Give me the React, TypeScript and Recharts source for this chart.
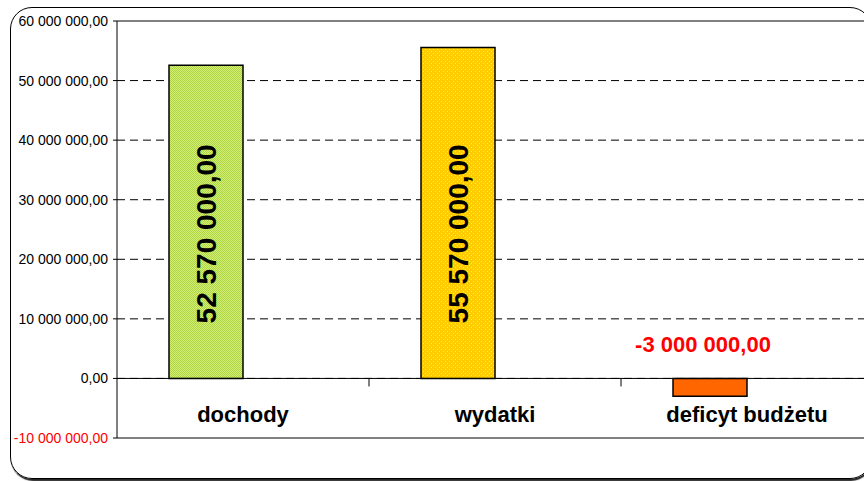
import React from 'react';
import {
  BarChart,
  Bar,
  Cell,
  XAxis,
  YAxis,
  CartesianGrid,
  ReferenceLine,
  LabelList,
} from 'recharts';

const categories = ['dochody', 'wydatki', 'deficyt budżetu'];
const budgetValues = [52570000, 55570000, -3000000];
const emptySeries = [null, null, null];
const yTicks = [-10000000, 0, 10000000, 20000000, 30000000, 40000000, 50000000, 60000000];

const barFills = ['url(#greenDots)', 'url(#yellowDots)', '#ff6600'];

const data = categories.map((name, i) => ({
  name,
  value: budgetValues[i],
  empty: emptySeries[i],
}));

const FONT = '"Liberation Sans", Arial, sans-serif';

// chart layout
const CHART_W = 880;
const CHART_H = 481;
const MARGIN = { top: 21, right: 7, bottom: 13, left: 0 };
const Y_AXIS_W = 117;
const X_AXIS_H = 30;
const Y_MIN = -10000000;
const Y_MAX = 60000000;
const PLOT_W = CHART_W - MARGIN.left - MARGIN.right - Y_AXIS_W;
const PLOT_H = CHART_H - MARGIN.top - MARGIN.bottom - X_AXIS_H;
const HALF_BAND = PLOT_W / categories.length / 2;
const ZERO_OFFSET = (PLOT_H * (0 - Y_MIN)) / (Y_MAX - Y_MIN);

// 52570000 -> "52 570 000,00"
const fmt = (v: number) => {
  const sign = v < 0 ? '-' : '';
  const int = Math.abs(Math.round(v)).toString().replace(/\B(?=(\d{3})+(?!\d))/g, ' ');
  return sign + int + ',00';
};

const YTick = (props: any) => {
  const { x, y, payload } = props;
  return (
    <text
      x={x}
      y={y}
      dy="0.36em"
      textAnchor="end"
      fontFamily={FONT}
      fontSize={14}
      fill={payload.value < 0 ? '#ff0000' : '#000'}
    >
      {fmt(payload.value)}
    </text>
  );
};

// category label sits just under the zero line, tick mark on the band edge
const XTick = (props: any) => {
  const { x, y, payload } = props;
  const zeroY = y - ZERO_OFFSET;
  return (
    <g>
      <line
        x1={x + HALF_BAND}
        x2={x + HALF_BAND}
        y1={zeroY}
        y2={zeroY + 8}
        stroke="#000"
        strokeWidth={1}
      />
      <text
        x={x}
        y={zeroY + 44}
        textAnchor="middle"
        fontFamily={FONT}
        fontSize={22}
        fontWeight="bold"
        fill="#000"
      >
        {payload.value}
      </text>
    </g>
  );
};

const ValueLabel = (props: any) => {
  const { x, y, width, height, value } = props;
  if (value == null) return null;
  const cx = x + width / 2;
  if (value < 0) {
    const top = Math.min(y, y + height);
    return (
      <text
        x={cx - 7}
        y={top - 26}
        textAnchor="middle"
        fontFamily={FONT}
        fontSize={22}
        fontWeight="bold"
        fill="#ff0000"
      >
        {fmt(value)}
      </text>
    );
  }
  const base = Math.max(y, y + height);
  const lx = cx + 10;
  const ly = base - 55;
  return (
    <text
      x={lx}
      y={ly}
      transform={`rotate(-90 ${lx} ${ly})`}
      textAnchor="start"
      fontFamily={FONT}
      fontSize={28}
      fontWeight="bold"
      fill="#000"
    >
      {fmt(value)}
    </text>
  );
};

export default function App() {
  return (
    <div
      style={{
        position: 'absolute',
        left: 0,
        top: 0,
        width: 864,
        height: 481,
        overflow: 'hidden',
        background: '#fff',
        fontFamily: FONT,
      }}
    >
      <div
        style={{
          position: 'absolute',
          left: 10,
          top: 7,
          width: 860,
          height: 470,
          border: '1.5px solid #000',
          borderRadius: 22,
          boxShadow: '1px 2px 1px rgba(0,0,0,0.85)',
        }}
      />
      <div style={{ position: 'absolute', left: 0, top: 0 }}>
        <BarChart
          width={CHART_W}
          height={CHART_H}
          data={data}
          margin={MARGIN}
          barGap={0}
        >
          <defs>
            <pattern id="greenDots" width="2" height="2" patternUnits="userSpaceOnUse">
              <rect width="2" height="2" fill="#d2ef76" />
              <rect x="0" y="0" width="1" height="1" fill="#afd443" />
              <rect x="1" y="1" width="1" height="1" fill="#afd443" />
            </pattern>
            <pattern id="yellowDots" width="4" height="4" patternUnits="userSpaceOnUse">
              <rect width="4" height="4" fill="#ffcc00" />
              <rect x="1" y="1" width="1" height="1" fill="#ffea8a" />
              <rect x="3" y="3" width="1" height="1" fill="#ffea8a" />
            </pattern>
          </defs>
          <CartesianGrid
            vertical={false}
            stroke="#000"
            strokeDasharray="8 5"
          />
          <XAxis
            dataKey="name"
            axisLine={false}
            tickLine={false}
            tickSize={0}
            tickMargin={0}
            height={X_AXIS_H}
            interval={0}
            tick={<XTick />}
          />
          <YAxis
            width={Y_AXIS_W}
            type="number"
            domain={[Y_MIN, Y_MAX]}
            ticks={yTicks}
            interval={0}
            axisLine={{ stroke: '#000', strokeWidth: 1 }}
            tickLine={{ stroke: '#000' }}
            tickSize={4}
            tickMargin={5}
            tick={<YTick />}
          />
          <ReferenceLine y={Y_MAX} stroke="#808080" strokeWidth={2} />
          <ReferenceLine y={Y_MIN} stroke="#808080" strokeWidth={2} />
          <Bar
            dataKey="value"
            barSize={74}
            stroke="#000"
            strokeWidth={1.5}
            isAnimationActive={false}
          >
            {data.map((d, i) => (
              <Cell key={d.name} fill={barFills[i]} />
            ))}
            <LabelList dataKey="value" content={<ValueLabel />} />
          </Bar>
          <Bar dataKey="empty" barSize={74} fill="none" isAnimationActive={false} />
          <ReferenceLine y={0} stroke="#000" strokeWidth={1} />
        </BarChart>
      </div>
    </div>
  );
}
